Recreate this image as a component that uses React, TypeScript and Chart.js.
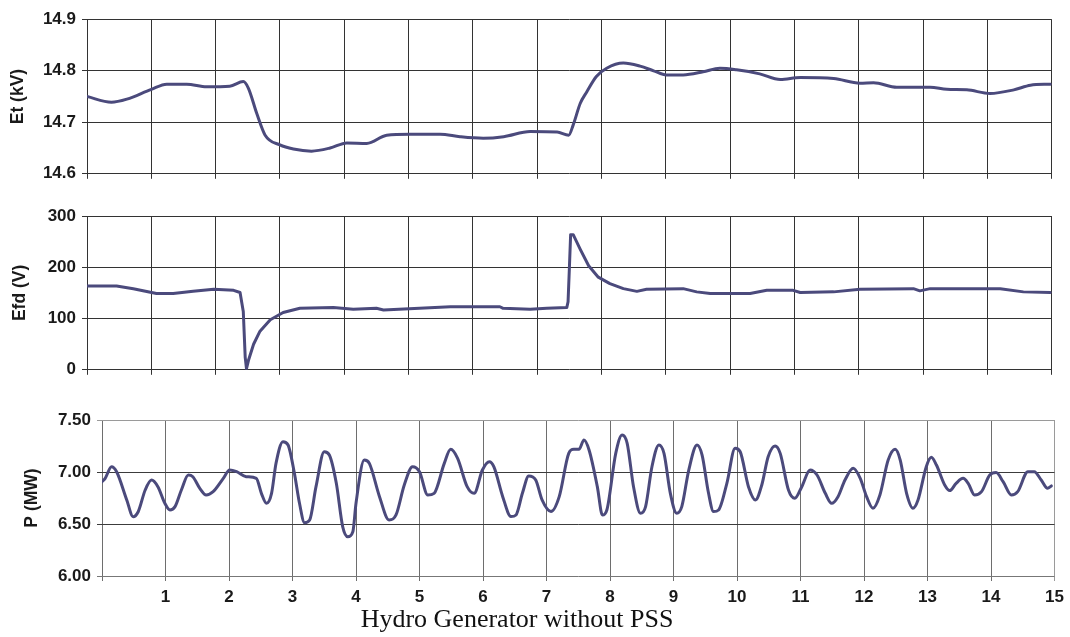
import React, { useEffect, useRef } from 'react';
import { Chart, registerables } from 'chart.js';

Chart.register(...registerables);

// ---------- data ----------
const xTicks = [0, 1, 2, 3, 4, 5, 6, 7, 8, 9, 10, 11, 12, 13, 14, 15];

const etTime = [0, 0.38, 0.62, 1.0, 1.24, 1.55, 1.86, 2.22, 2.43, 2.51, 2.64, 2.77, 3.0, 3.21, 3.49, 3.78, 4.04, 4.35, 4.66, 5.02, 5.49, 5.8, 6.16, 6.48, 6.89, 7.31, 7.49, 7.56, 7.67, 7.77, 7.92, 8.08, 8.34, 8.6, 8.81, 9.01, 9.27, 9.58, 9.84, 10.1, 10.46, 10.78, 11.09, 11.61, 12.02, 12.23, 12.59, 13.11, 13.37, 13.68, 14.04, 14.41, 14.67, 14.98];
const etValues = [14.75, 14.739, 14.745, 14.764, 14.774, 14.774, 14.769, 14.77, 14.779, 14.766, 14.717, 14.675, 14.656, 14.648, 14.644, 14.65, 14.66, 14.659, 14.675, 14.677, 14.677, 14.672, 14.669, 14.672, 14.682, 14.681, 14.675, 14.695, 14.737, 14.759, 14.789, 14.805, 14.815, 14.809, 14.8, 14.792, 14.792, 14.798, 14.805, 14.802, 14.794, 14.783, 14.787, 14.785, 14.776, 14.777, 14.768, 14.768, 14.764, 14.763, 14.756, 14.763, 14.772, 14.774];

const efdTime = [0, 0.46, 0.72, 1.08, 1.34, 1.65, 1.97, 2.28, 2.38, 2.43, 2.46, 2.48, 2.51, 2.59, 2.69, 2.85, 3.05, 3.31, 3.83, 4.14, 4.5, 4.61, 5.65, 6.42, 6.47, 6.89, 7.15, 7.46, 7.48, 7.5, 7.52, 7.56, 7.67, 7.8, 7.95, 8.13, 8.34, 8.55, 8.7, 9.27, 9.48, 9.69, 10.31, 10.57, 10.98, 11.09, 11.61, 12.02, 12.85, 12.95, 13.11, 14.2, 14.56, 14.98];
const efdValues = [163.5, 163.5, 158, 148.8, 148.8, 153, 157, 155, 150.7, 113.7, 24.3, 2, 18, 49.8, 75.4, 97.7, 111.8, 120, 121.4, 118, 120, 116.8, 123, 123, 120, 118, 120, 121.4, 132.8, 196.6, 263.6, 263.6, 235, 203, 180.7, 168, 158.3, 153, 157, 158.3, 152, 148.8, 148.8, 155, 155, 150.7, 152, 157, 158.3, 154, 158.3, 158.3, 152, 150.7];

const pTime = [0, 0.05, 0.15, 0.23, 0.39, 0.49, 0.57, 0.68, 0.78, 0.88, 0.99, 1.07, 1.15, 1.25, 1.36, 1.43, 1.54, 1.64, 1.75, 1.91, 2.01, 2.12, 2.27, 2.43, 2.51, 2.59, 2.67, 2.74, 2.85, 2.93, 3.03, 3.11, 3.19, 3.27, 3.37, 3.5, 3.58, 3.69, 3.79, 3.87, 3.95, 4.0, 4.13, 4.21, 4.37, 4.52, 4.63, 4.76, 4.89, 5.0, 5.13, 5.23, 5.39, 5.49, 5.6, 5.75, 5.86, 5.99, 6.1, 6.17, 6.31, 6.44, 6.52, 6.62, 6.72, 6.83, 6.93, 7.07, 7.2, 7.35, 7.43, 7.51, 7.59, 7.67, 7.8, 7.88, 7.95, 8.09, 8.19, 8.27, 8.37, 8.48, 8.56, 8.66, 8.77, 8.85, 8.95, 9.05, 9.13, 9.24, 9.37, 9.45, 9.55, 9.63, 9.71, 9.84, 9.97, 10.05, 10.18, 10.29, 10.39, 10.49, 10.6, 10.68, 10.81, 10.91, 11.02, 11.15, 11.26, 11.39, 11.49, 11.59, 11.7, 11.83, 11.94, 12.04, 12.14, 12.25, 12.38, 12.49, 12.57, 12.67, 12.77, 12.85, 12.98, 13.06, 13.14, 13.27, 13.35, 13.45, 13.56, 13.64, 13.74, 13.85, 13.98, 14.08, 14.19, 14.32, 14.42, 14.58, 14.68, 14.79, 14.89, 14.95];
const pValues = [6.907, 6.939, 7.051, 7.003, 6.731, 6.57, 6.618, 6.827, 6.923, 6.859, 6.699, 6.635, 6.667, 6.827, 6.971, 6.955, 6.843, 6.779, 6.811, 6.939, 7.019, 7.003, 6.955, 6.939, 6.795, 6.699, 6.795, 7.083, 7.292, 7.26, 6.987, 6.699, 6.513, 6.539, 6.859, 7.195, 7.163, 6.891, 6.475, 6.378, 6.426, 6.7, 7.115, 7.083, 6.763, 6.539, 6.587, 6.875, 7.051, 7.003, 6.779, 6.795, 7.083, 7.218, 7.131, 6.859, 6.795, 7.019, 7.099, 7.051, 6.763, 6.571, 6.587, 6.795, 6.962, 6.923, 6.731, 6.619, 6.763, 7.179, 7.218, 7.218, 7.308, 7.212, 6.859, 6.587, 6.635, 7.179, 7.356, 7.276, 6.859, 6.603, 6.667, 7.051, 7.26, 7.179, 6.795, 6.603, 6.667, 7.019, 7.26, 7.163, 6.8, 6.619, 6.635, 6.891, 7.228, 7.195, 6.859, 6.731, 6.875, 7.147, 7.25, 7.179, 6.827, 6.747, 6.859, 7.019, 6.971, 6.795, 6.699, 6.763, 6.923, 7.035, 6.939, 6.763, 6.651, 6.779, 7.115, 7.218, 7.115, 6.795, 6.651, 6.731, 7.051, 7.141, 7.067, 6.875, 6.821, 6.891, 6.939, 6.891, 6.779, 6.811, 6.971, 6.994, 6.907, 6.779, 6.811, 7.003, 7.003, 6.923, 6.843, 6.866];

const etTicks = [14.6, 14.7, 14.8, 14.9];
const efdTicks = [0, 100, 200, 300];
const pTicks = [6.0, 6.5, 7.0, 7.5];

const chartTitle = 'Hydro Generator without PSS';

// ---------- styling ----------
const LINE_COLOR = '#4b4a7c';
const TEXT_COLOR = '#1a1a1a';
const FONT_FAMILY = '"Liberation Sans", Arial, sans-serif';

type PanelSpec = {
  top: number;
  height: number;
  times: number[];
  values: number[];
  yTicks: number[];
  decimals: number;
  yTitle: string;
  titlePad: number;
  yWidth: number;
  xHeight: number;
  padTop: number;
  padRight: number;
  showXLabels: boolean;
  smooth: boolean;
  gridColor: (v: number, axis: 'x' | 'y') => string;
};

function makeConfig(p: PanelSpec): any {
  const data = p.times.map((t, i) => ({ x: t, y: p.values[i] }));
  const yMin = p.yTicks[0];
  const yMax = p.yTicks[p.yTicks.length - 1];
  const step = p.yTicks[1] - p.yTicks[0];
  return {
    type: 'line',
    data: {
      datasets: [
        {
          data,
          borderColor: LINE_COLOR,
          borderWidth: 3,
          pointRadius: 0,
          fill: false,
          tension: p.smooth ? 0.4 : 0,
          cubicInterpolationMode: p.smooth ? 'monotone' : 'default',
          borderJoinStyle: 'round',
          borderCapStyle: 'round',
        },
      ],
    },
    options: {
      animation: false,
      responsive: false,
      devicePixelRatio: 1,
      layout: { padding: { top: p.padTop, right: p.padRight, left: 0, bottom: 0 } },
      plugins: { legend: { display: false }, tooltip: { enabled: false }, title: { display: false } },
      scales: {
        x: {
          type: 'linear',
          min: xTicks[0],
          max: xTicks[xTicks.length - 1],
          afterBuildTicks: (axis: any) => {
            axis.ticks = xTicks.map((v) => ({ value: v }));
          },
          afterFit: (axis: any) => {
            axis.height = p.xHeight;
          },
          grid: {
            color: (ctx: any) => p.gridColor(ctx.tick ? ctx.tick.value : 0, 'x'),
            lineWidth: 1,
            tickLength: 5,
            drawTicks: true,
          },
          border: { display: false },
          ticks: {
            display: p.showXLabels,
            autoSkip: false,
            maxRotation: 0,
            padding: 6,
            color: TEXT_COLOR,
            font: { family: FONT_FAMILY, size: 17, weight: 'bold' },
            callback: (v: any) => (v === 0 ? '' : String(v)),
          },
        },
        y: {
          type: 'linear',
          min: yMin,
          max: yMax,
          afterBuildTicks: (axis: any) => {
            axis.ticks = p.yTicks.map((v) => ({ value: v }));
          },
          afterFit: (axis: any) => {
            axis.width = p.yWidth;
          },
          grid: {
            color: (ctx: any) => p.gridColor(ctx.tick ? ctx.tick.value : 0, 'y'),
            lineWidth: 1,
            tickLength: 5,
            drawTicks: true,
          },
          border: { display: false },
          ticks: {
            stepSize: step,
            padding: 6,
            color: TEXT_COLOR,
            font: { family: FONT_FAMILY, size: 17, weight: 'bold' },
            callback: (v: any) => Number(v).toFixed(p.decimals),
          },
          title: {
            display: true,
            text: p.yTitle,
            color: TEXT_COLOR,
            font: { family: FONT_FAMILY, size: 17.5, weight: 'bold' },
            padding: { top: p.titlePad, bottom: 0 },
          },
        },
      },
    },
  };
}

const darkGrid = () => '#333333';
const pGrid = (v: number, axis: 'x' | 'y') => {
  if (axis === 'x') return v === 15 ? '#9a9a9a' : '#6e6e6e';
  if (v === 7.5) return '#9a9a9a';
  if (v === 6.0) return '#777777';
  return '#3c3c3c';
};

const panels: PanelSpec[] = [
  {
    top: 0, height: 190, times: etTime, values: etValues, yTicks: etTicks, decimals: 1,
    yTitle: 'Et (kV)', titlePad: 7.5, yWidth: 87, xHeight: 16, padTop: 19.3, padRight: 18.3,
    showXLabels: false, smooth: true, gridColor: darkGrid,
  },
  {
    top: 196, height: 190, times: efdTime, values: efdValues, yTicks: efdTicks, decimals: 0,
    yTitle: 'Efd (V)', titlePad: 9.5, yWidth: 87, xHeight: 13.3, padTop: 20, padRight: 18.3,
    showXLabels: false, smooth: false, gridColor: darkGrid,
  },
  {
    top: 400, height: 237, times: pTime, values: pValues, yTicks: pTicks, decimals: 2,
    yTitle: 'P (MW)', titlePad: 21.5, yWidth: 102, xHeight: 61, padTop: 20, padRight: 13.3,
    showXLabels: true, smooth: true, gridColor: pGrid,
  },
];

function Panel({ spec }: { spec: PanelSpec }) {
  const ref = useRef<HTMLCanvasElement | null>(null);
  useEffect(() => {
    if (!ref.current) return;
    const chart = new Chart(ref.current, makeConfig(spec));
    return () => chart.destroy();
  }, [spec]);
  return (
    <canvas
      ref={ref}
      width={1070}
      height={spec.height}
      style={{ position: 'absolute', left: 0, top: spec.top, width: 1070, height: spec.height }}
    />
  );
}

export default function App() {
  return (
    <div
      style={{
        position: 'absolute',
        left: 0,
        top: 0,
        width: 1070,
        height: 637,
        background: '#ffffff',
        overflow: 'hidden',
      }}
    >
      {panels.map((p, i) => (
        <Panel key={i} spec={p} />
      ))}
      <div
        style={{
          position: 'absolute',
          left: 0,
          top: 606,
          width: 1034,
          textAlign: 'center',
          fontFamily: '"Liberation Serif", "Times New Roman", serif',
          fontSize: 26,
          lineHeight: '26px',
          color: '#111111',
          whiteSpace: 'nowrap',
        }}
      >
        {chartTitle}
      </div>
    </div>
  );
}
